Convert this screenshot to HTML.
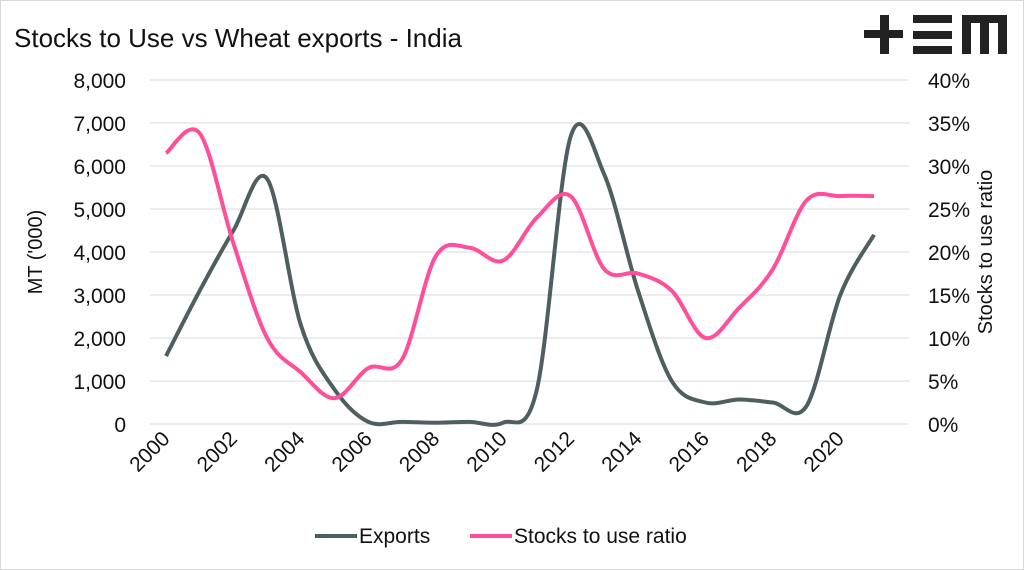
<!DOCTYPE html>
<html><head><meta charset="utf-8"><style>
html,body{margin:0;padding:0;background:#fff}
svg{display:block}
text{font-family:"Liberation Sans",sans-serif;fill:#111}
</style></head><body>
<svg id="s" width="1024" height="570" viewBox="0 0 1024 570">
<rect x="0.5" y="0.5" width="1023" height="569" fill="#fff" stroke="#d9d9d9"/>
<text x="14" y="47" font-size="26">Stocks to Use vs Wheat exports - India</text>
<g fill="#222">
<rect x="864" y="30" width="39" height="8"/><rect x="880" y="15" width="9" height="39"/>
<rect x="913" y="15" width="39" height="8"/><rect x="913" y="31" width="39" height="8"/><rect x="913" y="46" width="39" height="8"/>
<rect x="962" y="15" width="45" height="8"/><rect x="962" y="15" width="9" height="39"/><rect x="980" y="15" width="9" height="39"/><rect x="998" y="15" width="9" height="39"/>
</g>
<g id="grid" stroke="#d9d9d9" stroke-width="1"></g>
<g id="lab" font-size="21"></g>
<text transform="translate(42,252) rotate(-90)" text-anchor="middle" font-size="20">MT ('000)</text>
<text transform="translate(992,252) rotate(-90)" text-anchor="middle" font-size="20">Stocks to use ratio</text>
<path id="pe" fill="none" stroke="#4f5f5f" stroke-width="4" stroke-linejoin="round"/>
<path id="ps" fill="none" stroke="#ff4f9a" stroke-width="4" stroke-linejoin="round"/>
<line x1="315" y1="536" x2="357" y2="536" stroke="#4f5f5f" stroke-width="4"/>
<text x="359" y="543" font-size="21">Exports</text>
<line x1="470" y1="536" x2="512" y2="536" stroke="#ff4f9a" stroke-width="4"/>
<text x="514" y="543" font-size="21">Stocks to use ratio</text>
</svg>
<script>
var NS="http://www.w3.org/2000/svg",g=document.getElementById('grid'),l=document.getElementById('lab');
function el(p,t,a,tx){var e=document.createElementNS(NS,t);for(var k in a)e.setAttribute(k,a[k]);if(tx!=null)e.textContent=tx;p.appendChild(e);return e;}
for(var i=0;i<=8;i++){var y=424-i*43;
 el(g,'line',{x1:150,x2:909,y1:y,y2:y});
 el(l,'text',{x:126,y:y+8,'text-anchor':'end'},i==0?'0':(i+',000'));
 el(l,'text',{x:928,y:y+8},(i*5)+'%');}
var x0=166,dx=(874-166)/21;
for(var yr=2000;yr<=2020;yr+=2){var x=x0+(yr-2000)*dx;
 el(l,'text',{x:x+5,y:440,'text-anchor':'end',transform:'rotate(-45 '+(x+5)+' 440)'},yr);}
var ex=[1580,3100,4500,5700,2300,800,50,50,30,50,30,800,6680,5800,3100,1000,500,570,500,420,3000,4400];
var st=[31.5,33.8,21,10,6,3,6.5,7.5,19.5,20.5,19,24,26.5,18,17.5,15.5,10,13.5,18,26,26.5,26.5];
function path(v,f){var p=v.map(function(a,i){return[x0+i*dx,f(a)]});var d='M'+p[0][0]+','+p[0][1];
 for(var i=0;i<p.length-1;i++){var a=p[i-1]||p[i],b=p[i],c=p[i+1],e=p[i+2]||c;
 d+=' C'+(b[0]+(c[0]-a[0])/6)+','+(b[1]+(c[1]-a[1])/6)+' '+(c[0]-(e[0]-b[0])/6)+','+(c[1]-(e[1]-b[1])/6)+' '+c[0]+','+c[1];}return d;}
document.getElementById('pe').setAttribute('d',path(ex,function(v){return 424-v*0.043}));
document.getElementById('ps').setAttribute('d',path(st,function(v){return 424-v*8.6}));
</script>
</body></html>
